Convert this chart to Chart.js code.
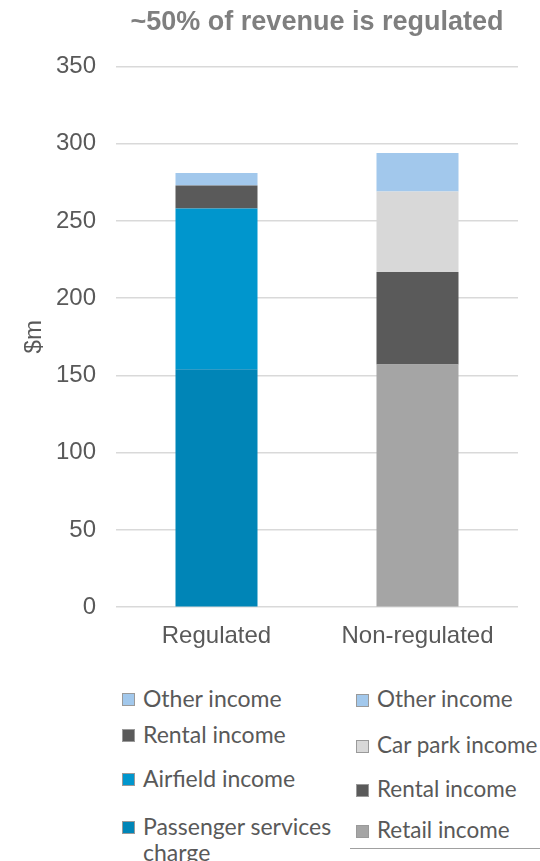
<!DOCTYPE html>
<html>
<head>
<meta charset="utf-8">
<script src="https://cdn.jsdelivr.net/npm/chart.js@4"></script>
<style>
  html, body { margin: 0; padding: 0; background: #fff; }
  #wrap { position: relative; width: 540px; height: 861px; overflow: hidden; }
  #box { position: absolute; left: 0; top: 0; width: 540px; height: 658px; }
  .legend-item { position: absolute; font-family: Lato, sans-serif; font-size: 23px; color: #595959; line-height: 26px; }
  .legend-item .sw { position: absolute; left: 0; top: 8px; width: 11px; height: 11px; border: 1px solid #9a9a9a; }
  .legend-item .tx { margin-left: 21px; display: block; }
  #legendRight .legend-item { font-size: 22.5px; }
  #legendRight .tx { white-space: nowrap; }
  #rule { position: absolute; left: 350px; top: 848px; width: 190px; height: 1px; background: #a0a0a0; }
</style>
</head>
<body>
<div id="wrap">
  <div id="box"><canvas id="revChart"></canvas></div>
  <div id="legendLeft"></div>
  <div id="legendRight"></div>
  <div id="rule"></div>
</div>
<script>
// Chart data
const categories = ['Regulated', 'Non-regulated'];

// Regulated revenue, $m (bottom to top)
const regulatedLabels = ['Passenger services charge', 'Airfield income', 'Rental income', 'Other income'];
const regulatedValues = [154, 104, 15, 8];

// Non-regulated revenue, $m (bottom to top)
const nonRegulatedLabels = ['Retail income', 'Rental income', 'Car park income', 'Other income'];
const nonRegulatedValues = [157, 60, 52, 25];

const yTicks = [0, 50, 100, 150, 200, 250, 300, 350];

// Colours
const regulatedColors = ['#0085b7', '#0096cd', '#5a5a5a', '#a2c8ec'];
const nonRegulatedColors = ['#a5a5a5', '#5a5a5a', '#d8d8d8', '#a2c8ec'];

// Legend row offsets (top, px)
const leftRows = [685, 721, 765, 813];
const rightRows = [686, 732, 776, 817];

function buildDatasets() {
    const sets = [];
    regulatedValues.forEach((v, i) => {
        sets.push({
            label: regulatedLabels[i],
            data: [v, null],
            backgroundColor: regulatedColors[i],
            group: 'reg'
        });
    });
    nonRegulatedValues.forEach((v, i) => {
        sets.push({
            label: nonRegulatedLabels[i],
            data: [null, v],
            backgroundColor: nonRegulatedColors[i],
            group: 'non'
        });
    });
    return sets;
}

/**
 * Two-column HTML legend, built from the chart datasets
 */
const htmlLegend = {
    id: 'htmlLegend',
    afterUpdate(chart) {
        const cols = { reg: ['legendLeft', 122, leftRows], non: ['legendRight', 356, rightRows] };
        Object.keys(cols).forEach(key => {
            const [id, left, rows] = cols[key];
            const el = document.getElementById(id);
            el.innerHTML = '';
            const items = chart.data.datasets.filter(d => d.group === key).reverse();
            items.forEach((ds, i) => {
                const item = document.createElement('div');
                item.className = 'legend-item';
                item.style.left = left + 'px';
                item.style.top = rows[i] + 'px';
                item.style.width = key === 'reg' ? '225px' : '185px';
                item.innerHTML = '<span class="sw" style="background:' + ds.backgroundColor + '"></span>' +
                    '<span class="tx">' + ds.label + '</span>';
                el.appendChild(item);
            });
        });
    }
};

const ctx = document.getElementById('revChart');
new Chart(ctx, {
    type: 'bar',
    data: {
        labels: categories,
        datasets: buildDatasets()
    },
    options: {
        responsive: true,
        maintainAspectRatio: false,
        animation: false,
        layout: { padding: { left: 20, right: 22, top: 6, bottom: 0 } },
        datasets: {
            bar: { categoryPercentage: 0.8, barPercentage: 0.51 }
        },
        plugins: {
            legend: { display: false },
            tooltip: { enabled: false },
            title: {
                display: true,
                fullSize: false,
                text: '~50% of revenue is regulated',
                color: '#7f7f7f',
                font: { family: 'Arial, Liberation Sans', size: 27, weight: 'bold' },
                padding: { top: 0, bottom: 28 }
            }
        },
        scales: {
            x: {
                stacked: true,
                grid: { display: false },
                border: { display: false },
                ticks: {
                    color: '#595959',
                    font: { family: 'Arial, Liberation Sans', size: 24 },
                    padding: 7
                }
            },
            y: {
                stacked: true,
                min: 0,
                max: 350,
                afterBuildTicks(axis) {
                    axis.ticks = yTicks.map(v => ({ value: v }));
                },
                afterFit(axis) {
                    axis.width = 96;
                },
                grid: { color: '#d9d9d9', lineWidth: 1.5, drawTicks: false },
                border: { display: false },
                ticks: {
                    color: '#595959',
                    font: { family: 'Arial, Liberation Sans', size: 24 },
                    padding: 20
                },
                title: {
                    display: true,
                    text: '$m',
                    color: '#595959',
                    font: { family: 'Arial, Liberation Sans', size: 24 },
                    padding: { top: 0, bottom: 4 }
                }
            }
        }
    },
    plugins: [htmlLegend]
});
</script>
</body>
</html>
